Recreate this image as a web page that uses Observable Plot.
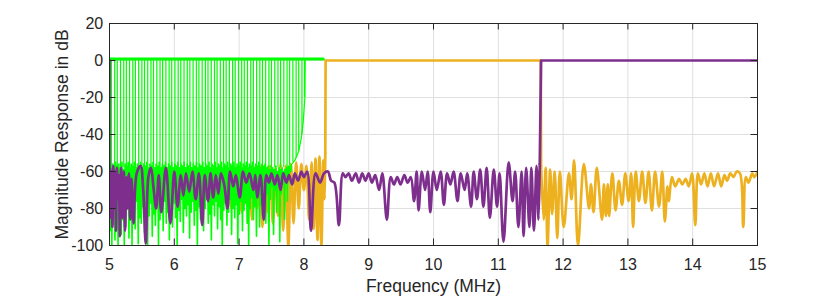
<!DOCTYPE html>
<html><head><meta charset="utf-8">
<script src="https://cdn.jsdelivr.net/npm/d3@7"></script>
<script src="https://cdn.jsdelivr.net/npm/@observablehq/plot@0.6"></script>
<style>body{margin:0;background:#fff;} svg{display:block}</style>
</head><body><div id="chart"></div>
<script>
const xTicks = [5,6,7,8,9,10,11,12,13,14,15];
const yTicks = [20,0,-20,-40,-60,-80,-100];
const xLabel = "Frequency (MHz)";
const yLabel = "Magnitude Response in dB";

// purple channel stopband: [MHz, dB]
const purpleStop = [
[5.000,0],[5.001,-84],
[5.01,-58],[5.02,-85],[5.03,-60],[5.045,-90],[5.06,-57],[5.075,-80],[5.09,-60],[5.10,-92],[5.115,-58],[5.13,-75],[5.145,-62],[5.16,-95],[5.18,-58],[5.20,-85],[5.22,-60],[5.24,-92],[5.26,-63],[5.28,-80],[5.30,-61],[5.32,-86],[5.34,-64],[5.37,-88],[5.42,-61],[5.48,-57],[5.52,-70],[5.56,-99],[5.60,-63],[5.64,-58],[5.68,-69],[5.72,-80],[5.76,-62],[5.80,-82],[5.87,-58],[5.94,-88],[6.00,-60],[6.05,-79],[6.10,-62],[6.14,-73],[6.18,-61],[6.23,-71],[6.28,-60],[6.33,-75],[6.38,-61],[6.43,-89],[6.47,-62],[6.52,-76],[6.56,-61],[6.60,-74],[6.64,-62],[6.68,-72],[6.72,-61],[6.77,-67],[6.82,-80],[6.86,-60],[6.91,-68],[6.95,-62],[7.01,-74],[7.06,-60],[7.11,-66],[7.16,-61],[7.22,-70],[7.25,-62],[7.28,-74],[7.33,-62],[7.38,-86],[7.42,-62],[7.46,-66],[7.50,-61],[7.55,-67],[7.59,-62],[7.64,-70],[7.68,-61],[7.73,-66],[7.77,-62],[7.82,-67],[7.86,-61],[7.91,-65],[7.96,-60],[8.00,-63],[8.05,-60],[8.11,-92],[8.18,-61],[8.25,-66],[8.31,-61],[8.37,-60],[8.42,-65],[8.47,-66],[8.54,-89],[8.60,-61],
[8.64,-63],[8.69,-61],[8.74,-65],[8.80,-61],[8.85,-66],[8.90,-61],[8.95,-65],[9.00,-61],[9.05,-66],[9.10,-62],[9.16,-70],[9.21,-61],[9.28,-86],[9.34,-63],[9.39,-67],[9.44,-63],[9.49,-67],[9.55,-62],[9.60,-66],[9.65,-63],[9.70,-76],[9.74,-60],[9.77,-81],[9.82,-60],[9.87,-70],[9.91,-60],[9.95,-82],[10.00,-60],[10.05,-70],[10.11,-60],[10.16,-78],[10.21,-61],[10.26,-67],[10.31,-60],[10.37,-76],[10.42,-61],[10.48,-70],[10.52,-61],[10.58,-79],[10.62,-60],[10.67,-75],[10.72,-59],[10.77,-79],[10.82,-58],[10.87,-85],[10.93,-59],[10.98,-79],[11.02,-61],[11.08,-98],[11.16,-55],[11.22,-76],[11.26,-60],[11.31,-90],[11.36,-60],[11.39,-95],[11.43,-58],[11.48,-90],[11.51,-58],[11.55,-92],[11.59,-57],[11.62,-86],[11.64,-56]
];
// purple transition and passband
const purplePass = [[11.64,-56],[11.66,0],[15,0]];

// orange channel: lower stopband, passband, upper stopband
const orangeStopLow = [
[5.0,-62],[5.04,-66],[5.08,-60],[5.12,-68],[5.16,-61],[5.2,-65],[5.24,-60],[5.28,-67],[5.32,-59],[5.36,-64],[5.40,-58],[5.44,-66],[5.48,-60],[5.52,-68],[5.56,-61],[5.60,-65],[5.64,-59],[5.68,-63],[5.72,-60],[5.76,-66],[5.80,-61],[5.84,-64],[5.88,-60],[5.92,-67],[5.96,-61],[6.0,-65],[6.04,-60],[6.08,-68],[6.12,-62],[6.16,-66],[6.20,-60],[6.24,-70],[6.28,-61],[6.32,-66],[6.36,-60],[6.40,-72],[6.44,-61],[6.48,-67],[6.52,-60],[6.56,-74],[6.60,-61],[6.64,-70],[6.68,-59],[6.72,-78],[6.76,-60],[6.80,-72],[6.84,-59],[6.88,-80],[6.92,-60],[6.96,-75],[7.0,-59],[7.04,-82],[7.08,-58],[7.12,-78],[7.16,-59],[7.20,-86],[7.24,-58],[7.28,-80],[7.32,-57],[7.36,-90],[7.40,-58],[7.44,-82],[7.48,-57],[7.52,-88],[7.56,-58],[7.60,-84],[7.64,-56],[7.68,-92],[7.72,-57],[7.76,-100],[7.80,-56],[7.84,-88],[7.88,-55],[7.92,-80],[7.96,-56],[8.0,-70],[8.04,-57],[8.08,-86],[8.12,-55],[8.15,-91],[8.18,-53],[8.21,-97],[8.24,-52],[8.27,-100],[8.30,-54],[8.32,-75],[8.33,-50]
];
const orangePass = [[8.33,-50],[8.335,0],[11.655,0],[11.66,-57]];
const orangeStopHigh = [
[11.66,-57],[11.70,-86],[11.73,-58],[11.76,-100],[11.80,-59],[11.83,-83],[11.87,-60],[11.91,-96],[11.95,-60],[12.01,-90],[12.09,-61],[12.13,-75],[12.17,-54],[12.23,-100],[12.32,-56],[12.40,-80],[12.43,-67],[12.47,-82],[12.52,-58],[12.60,-86],[12.63,-67],[12.66,-84],[12.69,-67],[12.71,-84],[12.76,-61],[12.81,-81],[12.86,-65],[12.91,-78],[12.96,-61],[13.01,-76],[13.05,-61],[13.08,-90],[13.12,-60],[13.17,-76],[13.22,-60],[13.27,-77],[13.32,-60],[13.37,-81],[13.42,-60],[13.48,-79],[13.53,-60],[13.57,-87],[13.61,-68],[13.63,-76],[13.68,-63],[13.73,-68],[13.79,-64],[13.84,-67],[13.89,-64],[13.94,-68],[13.99,-61],[14.04,-89],[14.08,-61],[14.13,-67],[14.18,-61],[14.23,-68],[14.28,-61],[14.33,-68],[14.39,-61],[14.44,-68],[14.49,-62],[14.53,-65],[14.58,-61],[14.63,-63],[14.68,-60],[14.73,-61],[14.78,-90],[14.82,-63],[14.86,-66],[14.92,-61],[14.95,-63],[15.0,-60]
];

// green filter bank
const greenPassband = [[5.0,0.8],[8.3,0.8]];
const greenNotchFreq = [5.03,5.08,5.12,5.17,5.22,5.26,5.31,5.36,5.40,5.45,5.50,5.54,5.59,5.64,5.68,5.73,5.78,5.82,5.87,5.92,5.96,6.01,6.06,6.10,6.15,6.20,6.24,6.29,6.34,6.38,6.43,6.48,6.52,6.57,6.62,6.66,6.71,6.76,6.80,6.85,6.90,6.94,6.99,7.04,7.08,7.13,7.18,7.22,7.27,7.32,7.36,7.41,7.46,7.50,7.55,7.60,7.64,7.69,7.74,7.78,7.83,7.88,7.92,7.97,8.01];
const greenNotchDepth = [-58,-58,-58,-58,-58,-58,-58,-58,-58,-58,-58,-58,-58,-58,-58,-58,-58,-58,-58,-58,-58,-58,-58,-58,-58,-58,-58,-58,-58,-58,-58,-58,-58,-58,-58,-58,-58,-58,-58,-58,-58,-58,-58,-58,-58,-58,-58,-58,-58,-58,-58,-58,-58,-58,-58,-58,-58,-58,-58,-57,-55,-53,-49,-40,-20];
const greenEdge = [[8.02,0],[8.015,-20],[7.99,-33],[7.96,-42],[7.92,-49],[7.86,-54],[7.79,-57],[7.7,-59]];
const greenStopStart = 5.0, greenStopStep = 0.012;
const greenStopDb = [
-55,-92,-57,-100,-56,-85,-58,-97,-55,-88,
-57,-100,-56,-80,-58,-94,-55,-86,-59,-100,
-56,-90,-57,-78,-55,-96,-58,-84,-56,-100,
-57,-82,-55,-91,-58,-76,-56,-99,-57,-85,
-55,-88,-58,-79,-56,-93,-57,-81,-55,-100,
-58,-84,-56,-77,-57,-95,-55,-83,-58,-89,
-56,-78,-57,-100,-55,-86,-58,-80,-56,-92,
-57,-76,-55,-88,-58,-82,-56,-97,-57,-79,
-55,-90,-58,-77,-56,-85,-57,-100,-55,-81,
-58,-87,-56,-75,-57,-93,-55,-80,-58,-84,
-56,-78,-57,-96,-55,-82,-58,-76,-56,-89,
-57,-81,-55,-100,-58,-79,-56,-86,-57,-77,
-55,-92,-58,-80,-56,-75,-57,-88,-55,-83,
-58,-97,-56,-78,-57,-84,-55,-76,-58,-91,
-56,-79,-57,-86,-55,-100,-58,-81,-56,-77,
-57,-89,-55,-82,-58,-75,-56,-94,-57,-80,
-55,-85,-58,-78,-56,-99,-57,-83,-55,-76,
-58,-92,-56,-81,-57,-77,-55,-88,-58,-100,
-56,-80,-57,-74,-55,-86,-58,-79,-56,-95,
-57,-73,-55,-90,-58,-78,-56,-84,-57,-70,
-56,-88,-58,-72,-57,-100,-59,-75,-57,-68,
-58,-94,-59,-70,-57,-82,-60,-66,-58,-98,
-59,-72,-58,-65,-60,-86,-59,-64,-58,-76,
-57,-62,-58,-60,-57
];

const C = {purple:"#7E2F8E", orange:"#EDB120", green:"#00FF00", axis:"#262626", grid:"#DFDFDF"};
const toObj = a => a.map(([f, db]) => ({f, db}));
const notches = greenNotchFreq.map((f, i) => ({f, db: greenNotchDepth[i]}));
const greenStop = greenStopDb.map((db, i) => ({f: greenStopStart + i * greenStopStep, db}));

const W = 837, H = 296, mL = 109, mR = 80, mT = 23, mB = 51;
const fw = W - mL - mR, fh = H - mT - mB, tk = 6.5;
const font = "'Liberation Sans', Arial, Helvetica, sans-serif";
const lineOpts = (color, curve) => ({x: "f", y: "db", stroke: color, strokeWidth: 2.7, strokeLinejoin: "round", curve, clip: true});

const chart = Plot.plot({
  width: W, height: H,
  marginLeft: mL, marginRight: mR, marginTop: mT, marginBottom: mB,
  x: {domain: [5, 15], axis: null},
  y: {domain: [-100, 20], axis: null},
  style: {fontFamily: font, background: "#fff", overflow: "visible"},
  marks: [
    Plot.ruleX(xTicks, {x: d => d, stroke: C.grid, strokeWidth: 1}),
    Plot.ruleY(yTicks, {y: d => d, stroke: C.grid, strokeWidth: 1}),
    Plot.line(toObj(orangeStopLow), lineOpts(C.orange, "catmull-rom")),
    Plot.line(greenStop, {x: "f", y: "db", stroke: C.green, strokeWidth: 1.6, clip: true}),
    Plot.ruleX(notches, {x: "f", y1: 0.8, y2: "db", stroke: C.green, strokeWidth: 1.2, clip: true}),
    Plot.line(toObj(greenEdge), {x: "f", y: "db", stroke: C.green, strokeWidth: 1.2, clip: true}),
    Plot.line(toObj(greenPassband), {x: "f", y: "db", stroke: C.green, strokeWidth: 3, clip: true}),
    Plot.line(toObj(orangePass), lineOpts(C.orange, "linear")),
    Plot.line(toObj(orangeStopHigh), lineOpts(C.orange, "catmull-rom")),
    Plot.line(toObj(purpleStop), lineOpts(C.purple, "catmull-rom")),
    Plot.line(toObj(purplePass), lineOpts(C.purple, "linear")),
    Plot.frame({stroke: C.axis, strokeWidth: 1}),
    Plot.ruleX(xTicks, {x: d => d, stroke: C.axis, insetTop: fh - tk}),
    Plot.ruleX(xTicks, {x: d => d, stroke: C.axis, insetBottom: fh - tk}),
    Plot.ruleY(yTicks, {y: d => d, stroke: C.axis, insetRight: fw - tk}),
    Plot.ruleY(yTicks, {y: d => d, stroke: C.axis, insetLeft: fw - tk}),
    Plot.text(xTicks, {x: d => d, text: d => String(d), frameAnchor: "bottom", dy: 19.8, lineAnchor: "middle", fill: C.axis, fontSize: 16}),
    Plot.text(yTicks, {y: d => d, text: d => String(d), frameAnchor: "left", dx: -6.3, textAnchor: "end", lineAnchor: "middle", fill: C.axis, fontSize: 16}),
    Plot.text([xLabel], {text: d => d, frameAnchor: "bottom", dy: 41, textAnchor: "middle", lineAnchor: "middle", fill: C.axis, fontSize: 17.5}),
    Plot.text([yLabel], {text: d => d, frameAnchor: "left", dx: -47.6, rotate: -90, textAnchor: "middle", lineAnchor: "middle", fill: C.axis, fontSize: 17.5})
  ]
});
document.getElementById("chart").appendChild(chart);
</script>
</body></html>
